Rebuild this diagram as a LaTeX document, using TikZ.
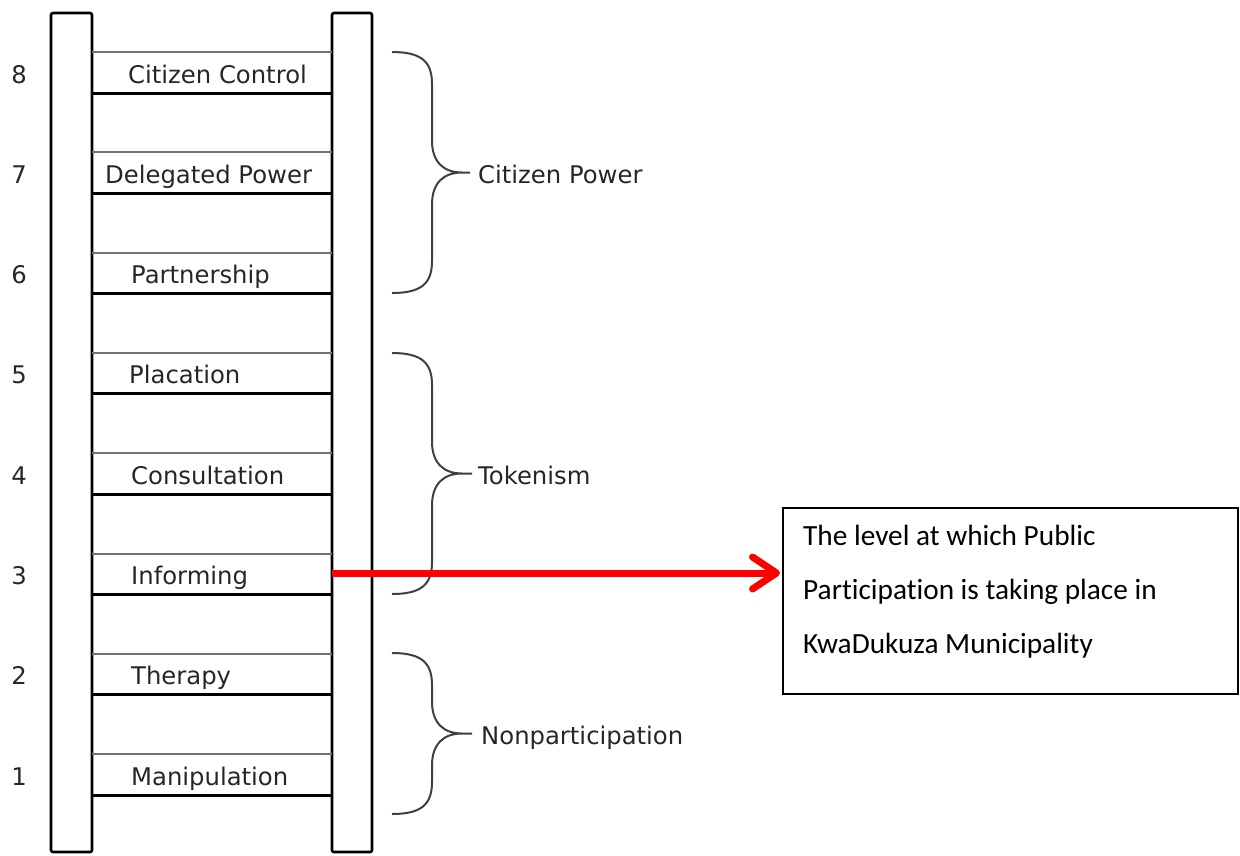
\documentclass[tikz,border=0pt]{standalone}
\usepackage{fontspec}
\setmainfont{DejaVu Sans}
\newfontfamily\notefont[Ligatures=NoCommon]{Carlito}
\usetikzlibrary{arrows.meta}

\tikzset{
  rail/.style={draw=black, line width=2.6pt, rounded corners=2pt},
  rungtop/.style={draw=black!55, line width=2pt},
  rungbot/.style={draw=black, line width=3pt},
  rungtext/.style={anchor=base west, inner sep=0pt, font=\fontsize{24.3}{28}\selectfont, text=black!85},
  numtext/.style={anchor=base, inner sep=0pt, font=\fontsize{24.3}{28}\selectfont, text=black!85},
  bracepath/.style={draw=black!75, line width=2pt},
  grouptext/.style={anchor=base west, inner sep=0pt, font=\fontsize{24.3}{28}\selectfont, text=black!85},
  notebox/.style={draw=black, line width=2pt, minimum width=455pt, minimum height=186pt, anchor=north west, inner sep=0pt},
  notetext/.style={anchor=base west, inner sep=0pt, font=\notefont\fontsize{29.3}{35}\selectfont},
  pointer/.style={draw=red, line width=7pt, -{Straight Barb[length=24pt,width=32pt,round]}, shorten >=2pt}
}

\begin{document}
\begin{tikzpicture}[x=1pt,y=-1pt]
\useasboundingbox (0,0) rectangle (1240,855);

% the two rails of the ladder
\draw[rail] (51,13) rectangle (92,852);
\draw[rail] (332,13) rectangle (372,852);

% the eight rungs, with their numbers and labels
\foreach \k/\lab/\lx in {8/Citizen Control/128, 7/Delegated Power/105, 6/Partnership/131,
                          5/Placation/129, 4/Consultation/131, 3/Informing/131,
                          2/Therapy/131, 1/Manipulation/131} {
  \pgfmathsetmacro{\yt}{52+(8-\k)*100.3}
  \draw[rungtop] (92,\yt) -- (332,\yt);
  \draw[rungbot] (92,\yt+41) -- (332,\yt+41);
  \node[rungtext] (rung\k) at (\lx,\yt+31) {\lab};
  \node[numtext] (num\k) at (19,\yt+31) {\k};
}

% the three group braces
\foreach \a/\b/\tipx/\gid/\gtext/\tx in {52/293/470/power/Citizen Power/478,
                                         353/594/472/token/Tokenism/478,
                                         653/814/472/nonpart/Nonparticipation/481} {
  \pgfmathsetmacro{\m}{(\a+\b)/2}
  \draw[bracepath] (392,\a) .. controls (422,\a) and (432,\a+10) .. (432,\a+32)
        -- (432,\m-32) .. controls (432,\m-10) and (444,\m) .. (462,\m) -- (\tipx,\m)
        -- (462,\m) .. controls (444,\m) and (432,\m+10) .. (432,\m+32)
        -- (432,\b-32) .. controls (432,\b-10) and (422,\b) .. (392,\b);
  \node[grouptext] (\gid) at (\tx,\m+11) {\gtext};
}

% the note and the pointer to the rung it refers to
\node[notebox] (note) at (782,507) {};
\node[notetext] (line1) at (803,545) {The level at which Public};
\node[notetext] (line2) at (803,599) {Participation is taking place in};
\node[notetext] (line3) at (803,653) {KwaDukuza Municipality};
\coordinate (informing) at (332,573);
\draw[pointer] (informing) -- (informing -| note.west);
\end{tikzpicture}
\end{document}
